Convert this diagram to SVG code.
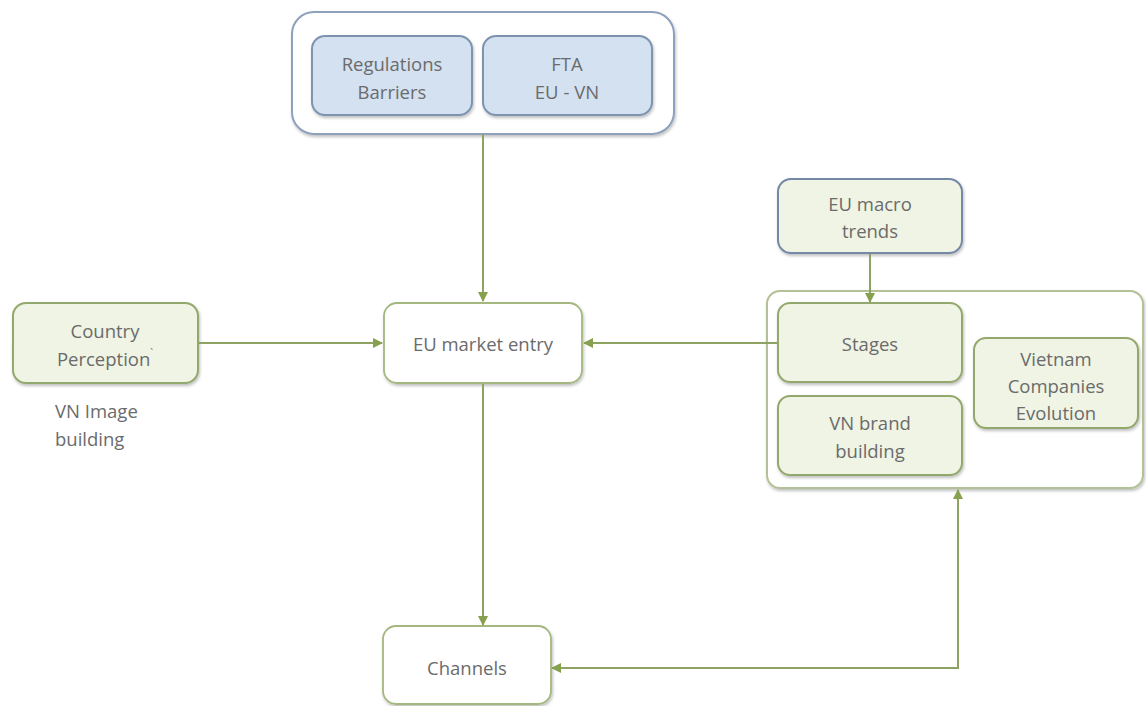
<svg xmlns="http://www.w3.org/2000/svg" width="1146" height="706" viewBox="0 0 1146 706">
  <defs>
    <marker id="arrow" viewBox="0 0 10 10" refX="9" refY="5" markerWidth="10" markerHeight="10" markerUnits="userSpaceOnUse" orient="auto-start-reverse">
      <path d="M0,0 L10,5 L0,10 z" fill="#86a050"/>
    </marker>
    <filter id="shadow" x="-10%" y="-10%" width="120%" height="130%">
      <feDropShadow dx="1" dy="2" stdDeviation="1.5" flood-color="#000" flood-opacity="0.25"/>
    </filter>
  </defs>
  <style>
    text { font-family: "Open Sans", "Noto Sans", sans-serif; font-size: 18.5px; fill: #6b6b6b; text-anchor: middle; }
    .label { text-anchor: start; }
    .blue { fill: #d3e1f1; stroke: #7d93b0; stroke-width: 2; }
    .frame { fill: #ffffff; stroke: #8da0bc; stroke-width: 2; }
    .green { fill: #eff4e4; stroke: #93a86c; stroke-width: 2; }
    .white { fill: #ffffff; stroke: #a4b77e; stroke-width: 1.8; }
    .group { fill: #ffffff; stroke: #b3c196; stroke-width: 2; }
    .macro { fill: #eff4e4; stroke: #7489a6; stroke-width: 2; }
    .conn { fill: none; stroke: #8ea361; stroke-width: 2; }
  </style>

  <rect width="1146" height="706" fill="#ffffff"/>

  <!-- policy frame -->
  <g id="policy">
    <rect class="frame" x="292" y="12" width="382" height="122" rx="22" filter="url(#shadow)"/>
  </g>
  <g id="regulations">
    <rect class="blue" x="312" y="36" width="160" height="79" rx="13" filter="url(#shadow)"/>
    <text x="392" y="71">Regulations</text>
    <text x="392" y="99">Barriers</text>
  </g>
  <g id="fta">
    <rect class="blue" x="483" y="36" width="169" height="79" rx="13" filter="url(#shadow)"/>
    <text x="567" y="71">FTA</text>
    <text x="567" y="99">EU - VN</text>
  </g>

  <!-- country perception -->
  <g id="country">
    <rect class="green" x="13" y="303" width="185" height="80" rx="13" filter="url(#shadow)"/>
    <text x="105" y="338">Country</text>
    <text x="105" y="366">Perception<tspan font-size="10" dy="-9">`</tspan></text>
  </g>
  <g id="vn-image">
    <text class="label" x="55" y="418">VN Image</text>
    <text class="label" x="55" y="446">building</text>
  </g>

  <!-- market entry -->
  <g id="market-entry">
    <rect class="white" x="384" y="303" width="198" height="80" rx="13" filter="url(#shadow)"/>
    <text x="483" y="351">EU market entry</text>
  </g>

  <!-- macro trends -->
  <g id="macro">
    <rect class="macro" x="778" y="179" width="184" height="74" rx="13" filter="url(#shadow)"/>
    <text x="870" y="211">EU macro</text>
    <text x="870" y="238">trends</text>
  </g>

  <!-- company group -->
  <g id="company-group">
    <rect class="group" x="767" y="291" width="376" height="197" rx="13" filter="url(#shadow)"/>
  </g>
  <g id="stages">
    <rect class="green" x="778" y="303" width="184" height="79" rx="12" filter="url(#shadow)"/>
    <text x="870" y="351">Stages</text>
  </g>
  <g id="vn-brand">
    <rect class="green" x="778" y="396" width="184" height="79" rx="12" filter="url(#shadow)"/>
    <text x="870" y="430">VN brand</text>
    <text x="870" y="458">building</text>
  </g>
  <g id="evolution">
    <rect class="green" x="974" y="338" width="164" height="90" rx="12" filter="url(#shadow)"/>
    <text x="1056" y="366">Vietnam</text>
    <text x="1056" y="393">Companies</text>
    <text x="1056" y="420">Evolution</text>
  </g>

  <!-- channels -->
  <g id="channels">
    <rect class="white" x="383" y="626" width="168" height="78" rx="13" filter="url(#shadow)"/>
    <text x="467" y="675">Channels</text>
  </g>

  <!-- connectors, drawn over the frames they cross -->
  <g id="connectors">
    <line class="conn" x1="483" y1="134" x2="483" y2="301" marker-end="url(#arrow)"/>
    <line class="conn" x1="199" y1="343" x2="382" y2="343" marker-end="url(#arrow)"/>
    <line class="conn" x1="777" y1="343" x2="584" y2="343" marker-end="url(#arrow)"/>
    <line class="conn" x1="870" y1="254" x2="870" y2="302" marker-end="url(#arrow)"/>
    <line class="conn" x1="483" y1="384" x2="483" y2="625" marker-end="url(#arrow)"/>
    <polyline class="conn" points="958,490 958,668 552,668" marker-start="url(#arrow)" marker-end="url(#arrow)"/>
  </g>
</svg>
